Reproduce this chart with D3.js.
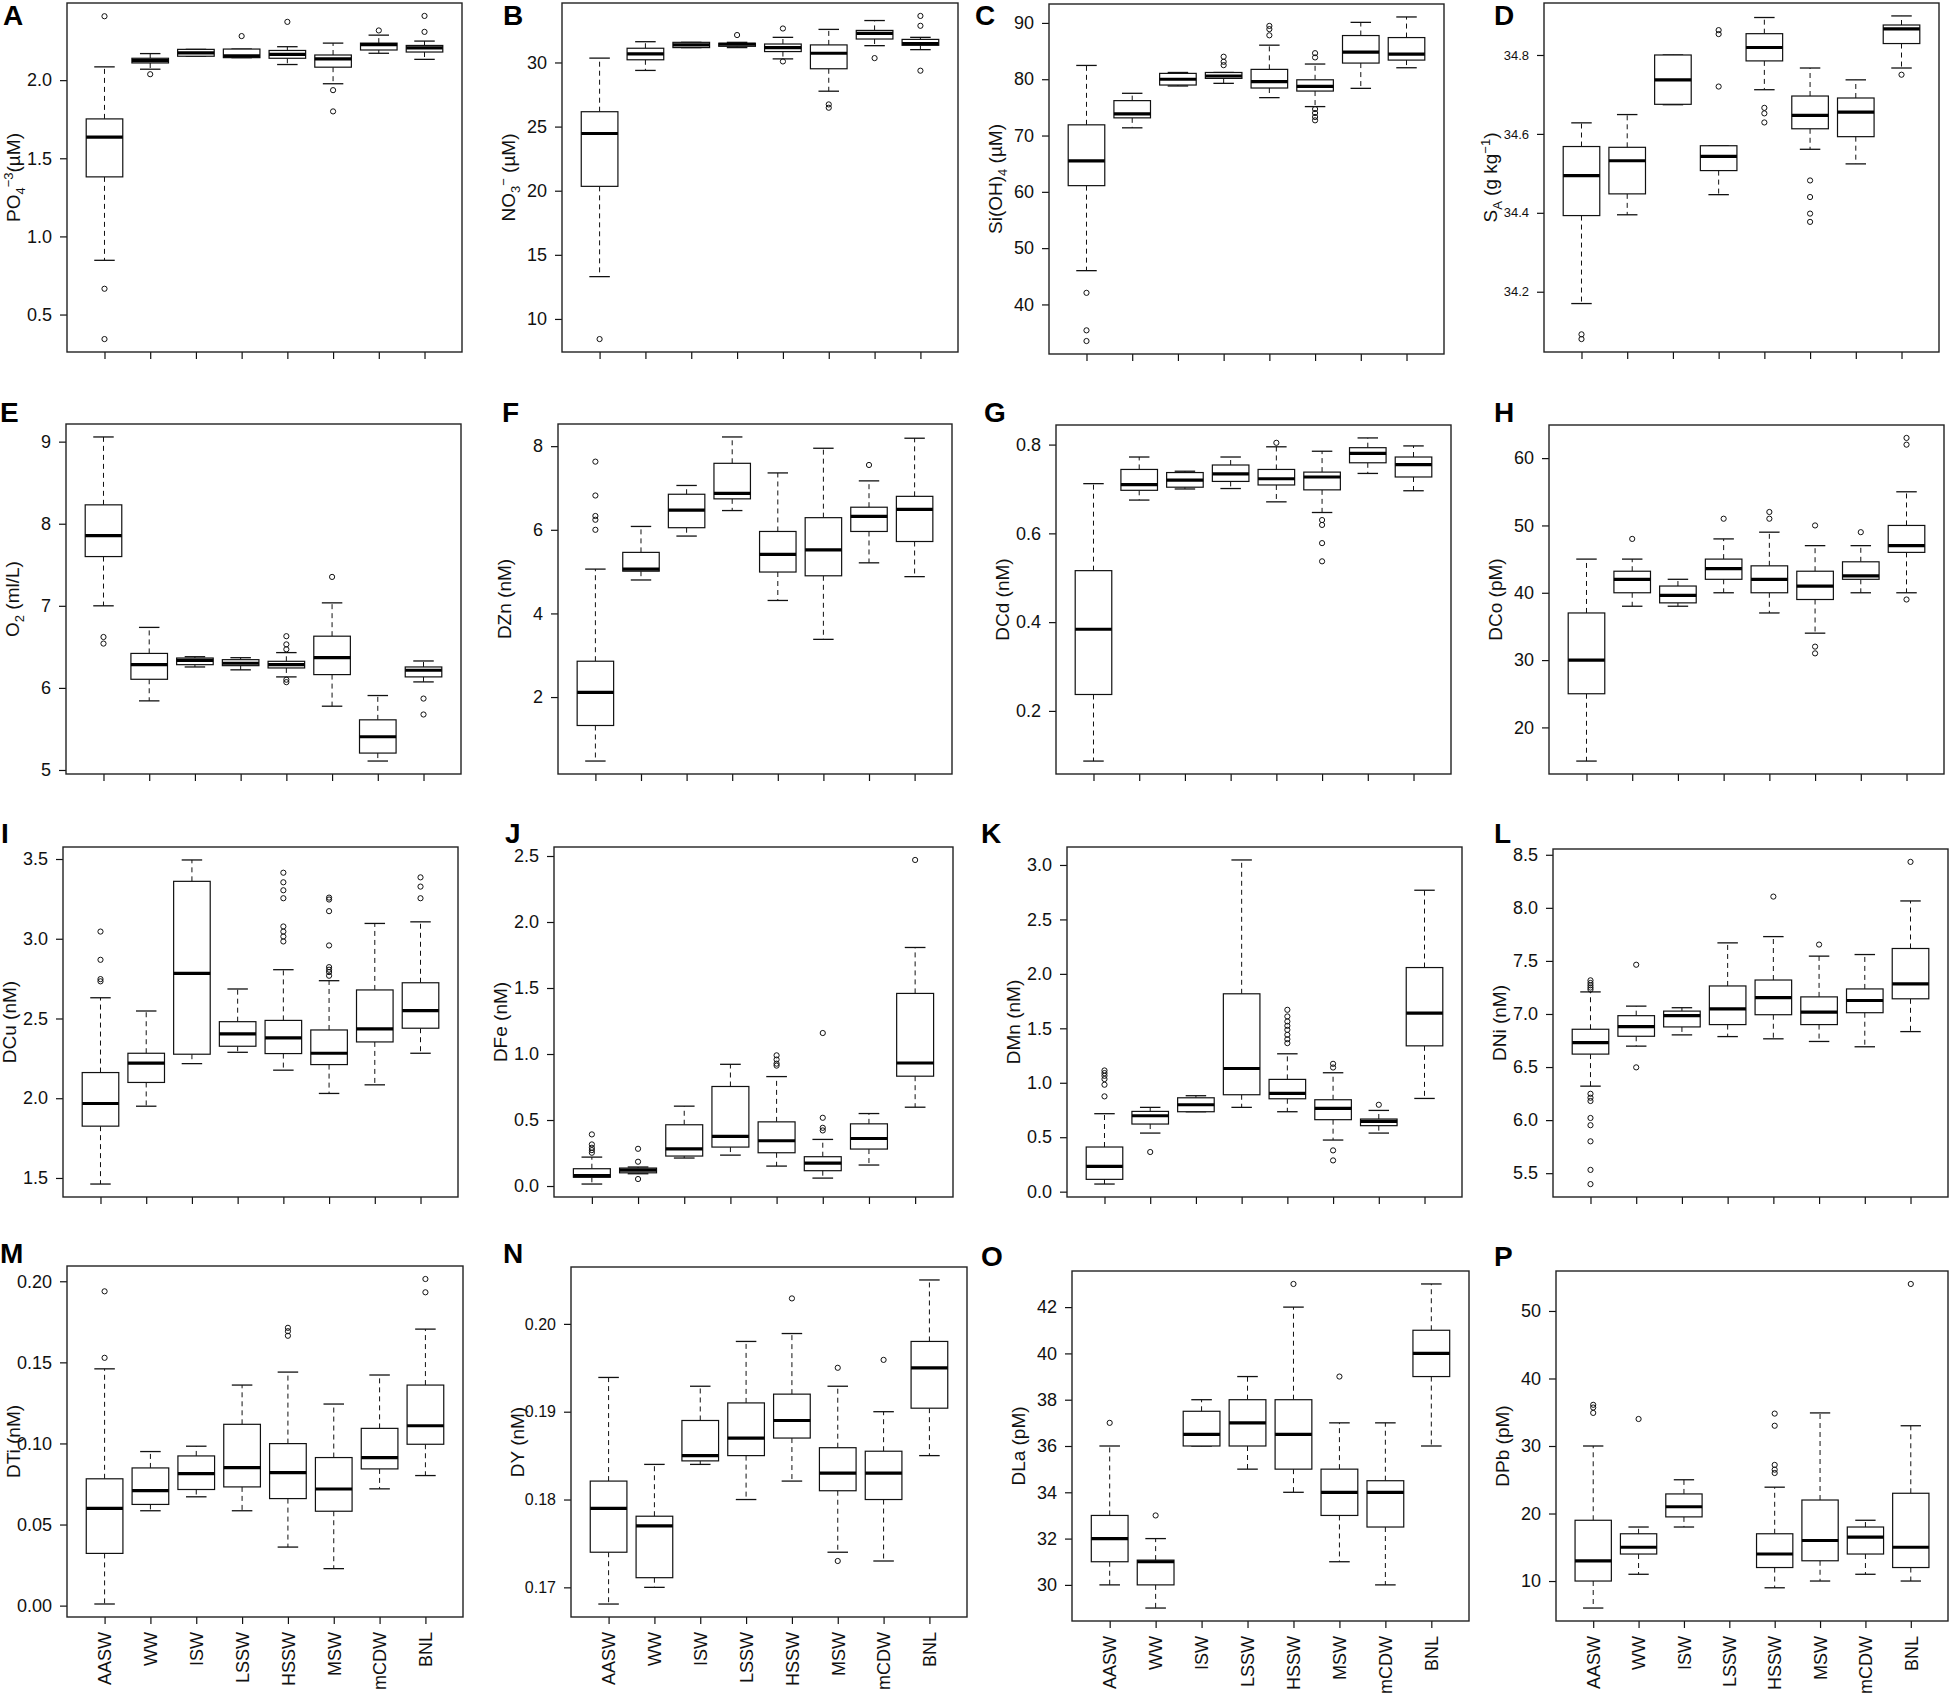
<!DOCTYPE html>
<html>
<head>
<meta charset="utf-8">
<script src="https://cdn.jsdelivr.net/npm/d3@7/dist/d3.min.js"></script>
<style>
  html, body { margin: 0; padding: 0; background: #fff; }
  svg { display: block; font-family: "Liberation Sans", Arial, sans-serif; }
</style>
</head>
<body>
<div id="chart"></div>
<script>
'use strict';

// water masses (x categories)
const groups = ['AASW', 'WW', 'ISW', 'LSSW', 'HSSW', 'MSW', 'mCDW', 'BNL'];

// box stats per group: [lower whisker, Q1, median, Q3, upper whisker]
const po4Stats = [
  [0.847, 1.381, 1.636, 1.752, 2.085], [2.07, 2.11, 2.125, 2.14, 2.17],
  [2.153, 2.153, 2.174, 2.197, 2.197], [2.144, 2.144, 2.155, 2.199, 2.199],
  [2.10, 2.14, 2.165, 2.19, 2.214], [1.977, 2.083, 2.136, 2.161, 2.237],
  [2.172, 2.193, 2.227, 2.237, 2.288], [2.133, 2.18, 2.206, 2.222, 2.25]
];
const po4Out = [[2.409, 0.665, 0.343], [2.038], [], [2.282], [2.373], [1.936, 1.80], [2.318], [2.411, 2.309]];

const no3Stats = [
  [13.30, 20.34, 24.46, 26.16, 30.34], [29.38, 30.21, 30.67, 31.11, 31.62],
  [31.16, 31.16, 31.37, 31.57, 31.57], [31.16, 31.26, 31.42, 31.5, 31.57],
  [30.28, 30.85, 31.16, 31.44, 31.96], [27.76, 29.51, 30.72, 31.37, 32.58],
  [31.31, 31.83, 32.27, 32.5, 33.27], [31.0, 31.34, 31.47, 31.8, 31.96]
];
const no3Out = [[8.43], [], [], [32.14], [30.08, 32.65], [26.73, 26.47], [30.34], [33.63, 32.86, 29.36]];

const siStats = [
  [46.0, 61.1, 65.5, 71.9, 82.45], [71.37, 73.14, 73.84, 76.2, 77.5],
  [78.8, 78.97, 80.0, 81.04, 81.2], [79.27, 80.15, 80.57, 81.2, 81.2],
  [76.73, 78.44, 79.56, 81.75, 86.05], [75.14, 77.9, 78.74, 79.9, 82.7],
  [78.38, 82.87, 84.8, 87.76, 90.1], [82.04, 83.4, 84.46, 87.4, 91.06]
];
const siOut = [[42.06, 35.4, 33.5], [], [], [84.0, 83.1, 82.5], [89.47, 88.9, 87.8],
  [84.63, 83.87, 74.7, 74.0, 73.3, 72.7], [], []];

const saStats = [
  [34.170, 34.393, 34.494, 34.568, 34.628], [34.395, 34.448, 34.532, 34.566, 34.649],
  [34.674, 34.675, 34.737, 34.80, 34.80], [34.446, 34.507, 34.543, 34.570, 34.570],
  [34.712, 34.785, 34.819, 34.854, 34.895], [34.561, 34.613, 34.647, 34.696, 34.767],
  [34.524, 34.593, 34.655, 34.691, 34.737], [34.767, 34.829, 34.866, 34.876, 34.899]
];
const saOut = [[34.092, 34.080], [], [], [34.863, 34.853, 34.72], [34.666, 34.652, 34.629],
  [34.482, 34.44, 34.398, 34.377], [], [34.75]];

const o2Stats = [
  [7.0, 7.6, 7.854, 8.23, 9.057], [5.842, 6.105, 6.283, 6.42, 6.737],
  [6.255, 6.283, 6.336, 6.364, 6.38], [6.22, 6.271, 6.30, 6.344, 6.368],
  [6.134, 6.243, 6.283, 6.324, 6.43], [5.777, 6.162, 6.37, 6.63, 7.036],
  [5.109, 5.206, 5.405, 5.611, 5.907], [6.073, 6.134, 6.215, 6.255, 6.328]
];
const o2Out = [[6.62, 6.54], [], [], [], [6.63, 6.53, 6.47, 6.1, 6.07], [7.352], [], [5.87, 5.676]];

const znStats = [
  [0.47, 1.32, 2.11, 2.857, 5.06], [4.80, 5.01, 5.06, 5.46, 6.08],
  [5.85, 6.05, 6.47, 6.85, 7.06], [6.46, 6.74, 6.87, 7.59, 8.22],
  [4.31, 4.99, 5.41, 5.96, 7.36], [3.38, 4.9, 5.52, 6.29, 7.95],
  [5.21, 5.96, 6.32, 6.54, 7.17], [4.88, 5.72, 6.49, 6.8, 8.19]
];
const znOut = [[7.63, 6.82, 6.33, 6.24, 6.0], [], [], [], [], [], [7.55], []];

const cdStats = [
  [0.087, 0.237, 0.384, 0.516, 0.712], [0.675, 0.697, 0.71, 0.744, 0.772],
  [0.70, 0.704, 0.72, 0.737, 0.74], [0.701, 0.717, 0.734, 0.754, 0.772],
  [0.671, 0.709, 0.723, 0.744, 0.795], [0.647, 0.698, 0.727, 0.738, 0.785],
  [0.735, 0.759, 0.78, 0.793, 0.815], [0.696, 0.727, 0.755, 0.772, 0.797]
];
const cdOut = [[], [], [], [], [0.804], [0.63, 0.619, 0.578, 0.537], [], []];

const coStats = [
  [15, 25, 30, 37, 45], [38, 40, 42, 43.2, 45],
  [38, 38.5, 39.6, 41, 42], [40, 42, 43.6, 45, 48],
  [37, 40, 42, 44, 49], [34, 39, 41, 43.2, 47],
  [40, 42, 42.5, 44.6, 47], [40, 46, 47, 50, 55]
];
const coOut = [[], [48], [], [51], [52, 51], [50, 32, 31], [49], [63, 62, 39]];

const cuStats = [
  [1.462, 1.825, 1.967, 2.161, 2.63], [1.95, 2.099, 2.22, 2.282, 2.547],
  [2.217, 2.276, 2.783, 3.36, 3.494], [2.288, 2.326, 2.403, 2.48, 2.685],
  [2.176, 2.28, 2.378, 2.488, 2.806], [2.030, 2.211, 2.282, 2.428, 2.737],
  [2.084, 2.353, 2.435, 2.679, 3.096], [2.282, 2.439, 2.549, 2.724, 3.106]
];
const cuOut = [[3.045, 2.868, 2.747, 2.733], [], [], [],
  [3.414, 3.354, 3.304, 3.254, 3.077, 3.045, 3.014, 2.983],
  [3.258, 3.246, 3.173, 2.958, 2.822, 2.806, 2.791, 2.768], [], [3.385, 3.327, 3.254]];

const feStats = [
  [0.015, 0.066, 0.078, 0.131, 0.219], [0.093, 0.10, 0.121, 0.136, 0.144],
  [0.212, 0.227, 0.282, 0.464, 0.605], [0.234, 0.295, 0.376, 0.754, 0.922],
  [0.151, 0.252, 0.343, 0.486, 0.829], [0.06, 0.116, 0.174, 0.222, 0.353],
  [0.159, 0.28, 0.36, 0.471, 0.549], [0.597, 0.832, 0.932, 1.459, 1.807]
];
const feOut = [[0.391, 0.315, 0.29, 0.272, 0.252], [0.282, 0.184, 0.053], [], [],
  [0.99, 0.958, 0.927, 0.912], [1.159, 0.517, 0.441, 0.421], [], [2.47]];

const mnStats = [
  [0.07, 0.113, 0.232, 0.41, 0.716], [0.538, 0.621, 0.697, 0.737, 0.774],
  [0.734, 0.734, 0.798, 0.862, 0.881], [0.774, 0.89, 1.131, 1.817, 3.046],
  [0.734, 0.853, 0.902, 1.031, 1.266], [0.474, 0.661, 0.765, 0.844, 1.092],
  [0.538, 0.606, 0.645, 0.667, 0.746], [0.856, 1.339, 1.639, 2.058, 2.768]
];
const mnOut = [[1.113, 1.089, 1.064, 1.034, 0.982, 0.875], [0.364], [], [],
  [1.67, 1.609, 1.563, 1.523, 1.486, 1.44, 1.40, 1.364], [1.174, 1.14, 0.379, 0.287], [0.798], []];

const niStats = [
  [6.32, 6.622, 6.731, 6.856, 7.208], [6.697, 6.79, 6.881, 6.984, 7.074],
  [6.803, 6.878, 6.984, 7.027, 7.059], [6.787, 6.9, 7.049, 7.264, 7.67],
  [6.766, 6.993, 7.155, 7.32, 7.729], [6.741, 6.9, 7.018, 7.161, 7.545],
  [6.691, 7.012, 7.127, 7.236, 7.56], [6.834, 7.143, 7.283, 7.617, 8.065]
];
const niOut = [[7.317, 7.292, 7.27, 7.249, 7.23, 6.248, 6.211, 6.18, 6.02, 5.952, 5.80, 5.531, 5.397],
  [7.464, 6.497], [], [], [8.106], [7.654], [], [8.433]];

const tiStats = [
  [0.001, 0.0322, 0.060, 0.0782, 0.146], [0.0585, 0.0624, 0.0709, 0.0849, 0.095],
  [0.0671, 0.0716, 0.0814, 0.0923, 0.0983], [0.0585, 0.0732, 0.0851, 0.1118, 0.136],
  [0.0361, 0.066, 0.082, 0.0999, 0.144], [0.0228, 0.0582, 0.0719, 0.0913, 0.1243],
  [0.072, 0.0843, 0.0913, 0.1093, 0.1422], [0.0802, 0.0995, 0.1109, 0.136, 0.1705]
];
const tiOut = [[0.1938, 0.1528], [], [], [], [0.1713, 0.1692, 0.1664], [], [], [0.2014, 0.1932]];

const yStats = [
  [0.1681, 0.174, 0.179, 0.1821, 0.1939], [0.17, 0.1711, 0.177, 0.1781, 0.184],
  [0.184, 0.1844, 0.185, 0.189, 0.1929], [0.18, 0.185, 0.187, 0.191, 0.198],
  [0.1821, 0.187, 0.189, 0.192, 0.1989], [0.174, 0.181, 0.183, 0.1859, 0.1929],
  [0.173, 0.18, 0.183, 0.1855, 0.19], [0.185, 0.1904, 0.195, 0.198, 0.205]
];
const yOut = [[], [], [], [], [0.2029], [0.195, 0.173], [0.1959], []];

const laStats = [
  [30, 31, 32, 33, 36], [29, 30, 31, 31.07, 32],
  [36, 36, 36.5, 37.5, 38], [35, 36, 37, 38, 39],
  [34, 35, 36.5, 38, 42], [31, 33, 34, 35, 37],
  [30, 32.5, 34, 34.5, 37], [36, 39, 40, 41, 43]
];
const laOut = [[37], [33], [], [], [43], [39], [], []];

const pbStats = [
  [6, 10, 13, 19, 30], [11, 14, 15, 17, 18],
  [18, 19.5, 21, 22.9, 25], null,
  [9, 12, 14, 17, 23.9], [10, 13, 16, 22, 34.9],
  [11, 14, 16.5, 18, 19], [10, 12, 15, 23, 33]
];
const pbOut = [[36.1, 35.7, 34.9], [34], [], [], [34.8, 33, 27.2, 26.5, 26], [], [], [54]];

// y-axis tick values
const po4Ticks = [0.5, 1.0, 1.5, 2.0];
const no3Ticks = [10, 15, 20, 25, 30];
const siTicks  = [40, 50, 60, 70, 80, 90];
const saTicks  = [34.2, 34.4, 34.6, 34.8];
const o2Ticks  = [5, 6, 7, 8, 9];
const znTicks  = [2, 4, 6, 8];
const cdTicks  = [0.2, 0.4, 0.6, 0.8];
const coTicks  = [20, 30, 40, 50, 60];
const cuTicks  = [1.5, 2.0, 2.5, 3.0, 3.5];
const feTicks  = [0.0, 0.5, 1.0, 1.5, 2.0, 2.5];
const mnTicks  = [0.0, 0.5, 1.0, 1.5, 2.0, 2.5, 3.0];
const niTicks  = [5.5, 6.0, 6.5, 7.0, 7.5, 8.0, 8.5];
const tiTicks  = [0.00, 0.05, 0.10, 0.15, 0.20];
const yTicks   = [0.17, 0.18, 0.19, 0.20];
const laTicks  = [30, 32, 34, 36, 38, 40, 42];
const pbTicks  = [10, 20, 30, 40, 50];

// ── Panel setup ──────────────────────────────────────────────────────────────
const W = 1950, H = 1698;

// plot frames [left, top, right, bottom]
const FRAMES = [
  [67, 3, 462, 352], [562, 3, 958, 352], [1049, 4, 1444, 354], [1544, 3, 1939, 352],
  [66, 424, 461, 774], [558, 424, 952, 774], [1056, 425, 1451, 774], [1549, 425, 1944, 774],
  [63, 847, 458, 1197], [554, 847, 953, 1197], [1067, 847, 1462, 1197], [1553, 849, 1948, 1197],
  [67, 1266, 463, 1617], [571, 1267, 967, 1617], [1072, 1271, 1469, 1621], [1556, 1271, 1948, 1621]
];
// panel letter [x, baseline]
const LETTERS = [
  [3, 25], [503, 25], [975, 25], [1494, 25],
  [0, 422], [502, 422], [984, 422], [1494, 422],
  [1, 843], [505, 843], [981, 843], [1494, 843],
  [0, 1263], [503, 1263], [981, 1266], [1494, 1266]
];

const f1 = d3.format('.1f'), f2 = d3.format('.2f'), f0 = d3.format('d');

const panels = [
  { id: 'A', stats: po4Stats, out: po4Out, ticks: po4Ticks, fmt: f1,
    label: [['PO', ''], ['4', 'sub'], ['−3', 'sup'], ['(µM)', '']] },
  { id: 'B', stats: no3Stats, out: no3Out, ticks: no3Ticks, fmt: f0,
    label: [['NO', ''], ['3', 'sub'], ['−', 'sup'], [' (µM)', '']] },
  { id: 'C', stats: siStats, out: siOut, ticks: siTicks, fmt: f0,
    label: [['Si(OH)', ''], ['4', 'sub'], [' (µM)', '']] },
  { id: 'D', stats: saStats, out: saOut, ticks: saTicks, fmt: f1, tickFont: 13,
    label: [['S', ''], ['A', 'sub'], [' (g kg', ''], ['−1', 'sup'], [')', '']] },
  { id: 'E', stats: o2Stats, out: o2Out, ticks: o2Ticks, fmt: f0,
    label: [['O', ''], ['2', 'sub'], [' (ml/L)', '']] },
  { id: 'F', stats: znStats, out: znOut, ticks: znTicks, fmt: f0, label: [['DZn (nM)', '']] },
  { id: 'G', stats: cdStats, out: cdOut, ticks: cdTicks, fmt: f1, label: [['DCd (nM)', '']] },
  { id: 'H', stats: coStats, out: coOut, ticks: coTicks, fmt: f0, label: [['DCo (pM)', '']] },
  { id: 'I', stats: cuStats, out: cuOut, ticks: cuTicks, fmt: f1, label: [['DCu (nM)', '']] },
  { id: 'J', stats: feStats, out: feOut, ticks: feTicks, fmt: f1, label: [['DFe (nM)', '']] },
  { id: 'K', stats: mnStats, out: mnOut, ticks: mnTicks, fmt: f1, label: [['DMn (nM)', '']] },
  { id: 'L', stats: niStats, out: niOut, ticks: niTicks, fmt: f1, label: [['DNi (nM)', '']] },
  { id: 'M', stats: tiStats, out: tiOut, ticks: tiTicks, fmt: f2, label: [['DTi (nM)', '']] },
  { id: 'N', stats: yStats, out: yOut, ticks: yTicks, fmt: f2, tickFont: 16, label: [['DY (nM)', '']] },
  { id: 'O', stats: laStats, out: laOut, ticks: laTicks, fmt: f0, label: [['DLa (pM)', '']] },
  { id: 'P', stats: pbStats, out: pbOut, ticks: pbTicks, fmt: f0, label: [['DPb (pM)', '']] }
];

const svg = d3.select('#chart').append('svg')
  .attr('width', W).attr('height', H)
  .attr('viewBox', `0 0 ${W} ${H}`);

svg.append('rect').attr('width', W).attr('height', H).attr('fill', '#fff');

panels.forEach((p, i) => drawPanel(p, FRAMES[i], LETTERS[i], i >= 12));

function drawPanel(p, frame, letter, showX) {
  const [l, t, r, b] = frame;

  // R-style 4% range expansion over all plotted values
  const vals = [];
  p.stats.forEach(s => { if (s) vals.push(...s); });
  p.out.forEach(o => vals.push(...o));
  const lo = d3.min(vals), hi = d3.max(vals), pad = (hi - lo) * 0.04;

  const y = d3.scaleLinear().domain([lo - pad, hi + pad]).range([b, t]);
  const x = d3.scalePoint().domain(groups).range([l, r]).padding(0.82);
  const bw = x.step() * 0.8;

  const g = svg.append('g').attr('class', 'panel panel-' + p.id);

  // y axis
  const yAxis = g.append('g')
    .attr('transform', `translate(${l},0)`)
    .call(d3.axisLeft(y).tickValues(p.ticks).tickFormat(p.fmt).tickSize(7).tickPadding(8));
  yAxis.select('.domain').remove();
  yAxis.selectAll('line').attr('stroke', '#111').attr('stroke-width', 1.2);
  yAxis.selectAll('text')
    .attr('fill', '#111')
    .style('font-family', '"Liberation Sans", Arial, sans-serif')
    .style('font-size', (p.tickFont || 18) + 'px');

  // x axis
  const xAxis = g.append('g')
    .attr('transform', `translate(0,${b})`)
    .call(d3.axisBottom(x).tickSize(7).tickFormat(showX ? (d => d) : ''));
  xAxis.select('.domain').remove();
  xAxis.selectAll('line').attr('stroke', '#111').attr('stroke-width', 1.2);
  xAxis.selectAll('text')
    .attr('fill', '#111')
    .attr('transform', 'rotate(-90)')
    .attr('text-anchor', 'end')
    .attr('x', -15).attr('y', 0).attr('dy', '0.35em')
    .style('font-family', '"Liberation Sans", Arial, sans-serif')
    .style('font-size', '18px');

  // boxes
  const boxes = g.append('g').attr('class', 'boxes');
  groups.forEach((grp, k) => {
    const s = p.stats[k];
    const cx = x(grp);
    if (s) {
      const [wl, q1, md, q3, wh] = s;
      const bx = boxes.append('g');
      // whiskers (dashed)
      bx.append('line').attr('x1', cx).attr('x2', cx).attr('y1', y(q3)).attr('y2', y(wh))
        .attr('stroke', '#111').attr('stroke-dasharray', '5,4');
      bx.append('line').attr('x1', cx).attr('x2', cx).attr('y1', y(q1)).attr('y2', y(wl))
        .attr('stroke', '#111').attr('stroke-dasharray', '5,4');
      // staples
      [wl, wh].forEach(v => {
        bx.append('line').attr('x1', cx - bw * 0.28).attr('x2', cx + bw * 0.28)
          .attr('y1', y(v)).attr('y2', y(v)).attr('stroke', '#111').attr('stroke-width', 1.3);
      });
      // box
      bx.append('rect').attr('x', cx - bw / 2).attr('width', bw)
        .attr('y', y(q3)).attr('height', Math.max(0, y(q1) - y(q3)))
        .attr('fill', '#fff').attr('stroke', '#111').attr('stroke-width', 1.2);
      // median
      bx.append('line').attr('x1', cx - bw / 2).attr('x2', cx + bw / 2)
        .attr('y1', y(md)).attr('y2', y(md)).attr('stroke', '#000').attr('stroke-width', 3.2);
    }
    // outliers
    boxes.selectAll(null)
      .data(p.out[k]).enter()
      .append('circle')
      .attr('cx', cx).attr('cy', d => y(d)).attr('r', 2.6)
      .attr('fill', 'none').attr('stroke', '#111').attr('stroke-width', 1);
  });

  // frame
  g.append('rect')
    .attr('x', l).attr('y', t).attr('width', r - l).attr('height', b - t)
    .attr('fill', 'none').attr('stroke', '#222').attr('stroke-width', 1.4);

  // y label (rotated, with sub/superscripts)
  const lab = g.append('text')
    .attr('transform', `translate(${l - 47},${(t + b) / 2}) rotate(-90)`)
    .attr('text-anchor', 'middle')
    .attr('dy', '0.35em')
    .attr('fill', '#111')
    .style('font-size', '19px');
  let shift = 0;
  p.label.forEach(([txt, kind]) => {
    const target = kind === 'sub' ? 5 : kind === 'sup' ? -7 : 0;
    lab.append('tspan')
      .attr('dy', target - shift)
      .style('font-size', kind ? '13px' : '19px')
      .text(txt);
    shift = target;
  });

  // panel letter
  svg.append('text')
    .attr('x', letter[0]).attr('y', letter[1])
    .attr('fill', '#000')
    .style('font-size', '28px').style('font-weight', 'bold')
    .text(p.id);
}
</script>
</body>
</html>
